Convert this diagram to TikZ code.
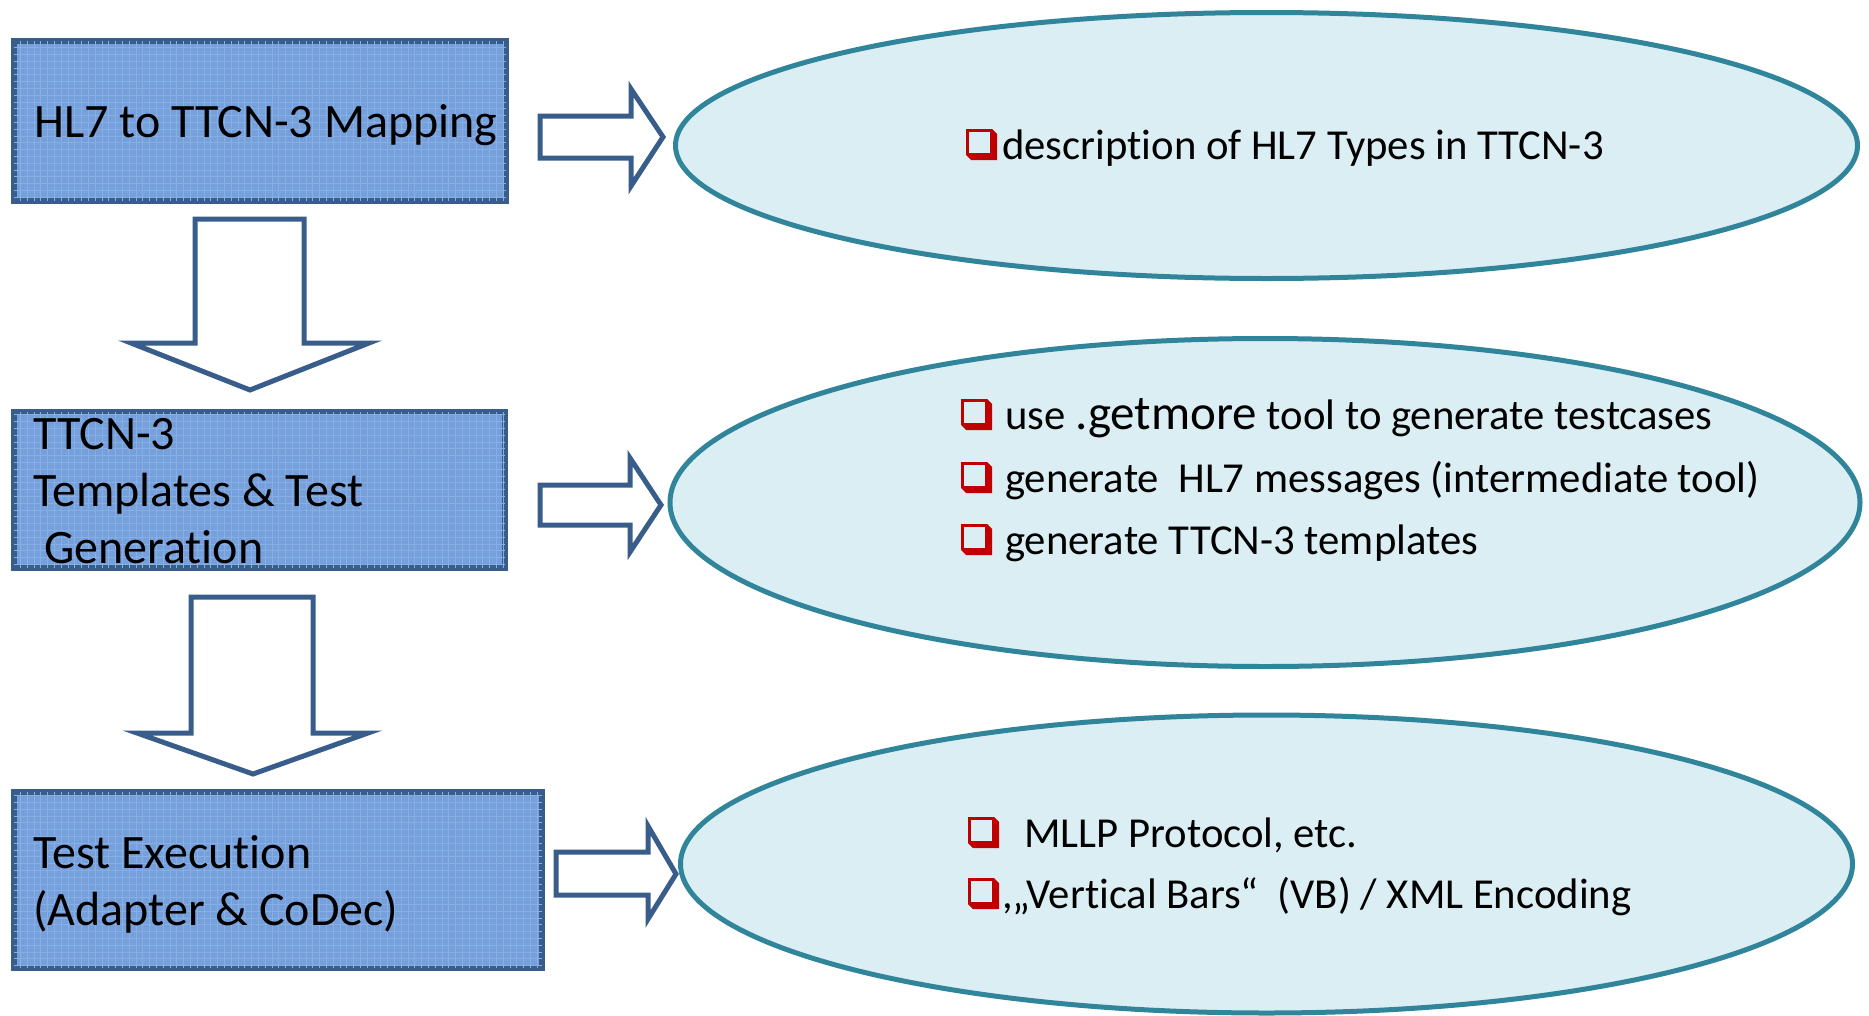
\documentclass[tikz,border=0pt]{standalone}
\usepackage{fontspec}
\setmainfont{Carlito}[Ligatures={TeX,NoCommon}]
\usetikzlibrary{shapes.geometric}
\definecolor{boxfill}{RGB}{118,160,220}
\definecolor{gridc}{RGB}{136,175,228}
\definecolor{boxline}{RGB}{56,93,138}
\definecolor{ellfill}{RGB}{219,238,244}
\definecolor{ellline}{RGB}{49,133,155}
\definecolor{chkred}{RGB}{192,0,0}
\begin{document}
\begin{tikzpicture}[x=1pt,y=-1pt,
  stepbox/.style={draw=boxline, line width=6.5pt, fill=boxfill, rectangle, inner sep=0pt},
  oval/.style={ellipse, draw=ellline, line width=5pt, fill=ellfill, inner sep=0pt},
  blockarrow/.style={draw=boxline, line width=5pt, fill=white, line join=miter},
  boxtxt/.style={anchor=base west, inner sep=0pt, font=\fontsize{48}{56}\selectfont},
  itemtxt/.style={anchor=base west, inner sep=0pt, font=\fontsize{42.7}{50}\selectfont},
  chkbox/.pic={
    \fill[chkred] (0,0) -- (26,0) -- (31,5) -- (31,31) -- (5,31) -- (0,26) -- cycle;
    \fill[ellfill] (2.5,2.5) rectangle (24,24);
  }
]
\useasboundingbox[fill=white] (0,0) rectangle (1869,1015);

% ellipses
\node[oval, minimum width=1182pt, minimum height=266pt] (e1) at (1266.5,145.5) {};
\node[oval, minimum width=1190pt, minimum height=328pt] (e2) at (1265,502.5) {};
\node[oval, minimum width=1172pt, minimum height=298pt] (e3) at (1266.5,864) {};

% boxes
\node[stepbox, minimum width=492pt, minimum height=160pt] (b1) at (260,121) {};
\node[stepbox, minimum width=491pt, minimum height=156pt] (b2) at (259.5,490) {};
\node[stepbox, minimum width=528pt, minimum height=176pt] (b3) at (278,880) {};
\foreach \b in {b1,b2,b3}{
  \begin{scope}
    \clip ([shift={(3.25,3.25)}]\b.north west) rectangle ([shift={(-3.25,-3.25)}]\b.south east);
    \draw[gridc, line width=0.8pt, step=6.8pt] ([shift={(3,3)}]\b.north west) grid ([shift={(-3,-3)}]\b.south east);
  \end{scope}
}

% box texts
\node[boxtxt] (t1) at (34,137) {HL7 to TTCN-3 Mapping};
\node[boxtxt] (t2a) at (33,449) {TTCN-3};
\node[boxtxt] (t2b) at (33,506) {Templates \& Test};
\node[boxtxt] (t2c) at (33,563) {\ Generation};
\node[boxtxt] (t3a) at (33,868) {Test Execution};
\node[boxtxt] (t3b) at (33,925) {(Adapter \& CoDec)};

% down arrows
\draw[blockarrow] (195,219) -- (304,219) -- (304,343) -- (369,343) -- (250,390) -- (131,343) -- (195,343) -- cycle;
\draw[blockarrow] (191,597) -- (313,597) -- (313,733) -- (368,733) -- (253,774) -- (137,733) -- (191,733) -- cycle;

% right arrows
\draw[blockarrow] (540,116) -- (631,116) -- (631,89) -- (663,137) -- (631,186) -- (631,158) -- (540,158) -- cycle;
\draw[blockarrow] (540,485) -- (630,485) -- (630,458) -- (661,505) -- (630,552) -- (630,525) -- (540,525) -- cycle;
\draw[blockarrow] (556,852) -- (648,852) -- (648,826) -- (676,874) -- (648,919) -- (648,895) -- (556,895) -- cycle;

% ellipse 1 text
\pic at (966,129) {chkbox};
\node[itemtxt] (i1) at (1002,159) {description of HL7 Types in TTCN-3};

% ellipse 2 text
\pic at (961,399) {chkbox};
\node[itemtxt] (i2a) at (1005,429) {use {\fontsize{49}{56}\selectfont .getmore} tool to generate testcases};
\pic at (961,462) {chkbox};
\node[itemtxt] (i2b) at (1005,492) {generate\ \ HL7 messages (intermediate tool)};
\pic at (961,524) {chkbox};
\node[itemtxt] (i2c) at (1005,554) {generate TTCN-3 templates};

% ellipse 3 text
\pic at (968,817) {chkbox};
\node[itemtxt] (i3a) at (1024,847) {MLLP Protocol, etc.};
\pic at (968,878) {chkbox};
\node[itemtxt] (i3b) at (1002,908) {,„Vertical Bars“\ \ (VB) / XML Encoding};
\end{tikzpicture}
\end{document}
